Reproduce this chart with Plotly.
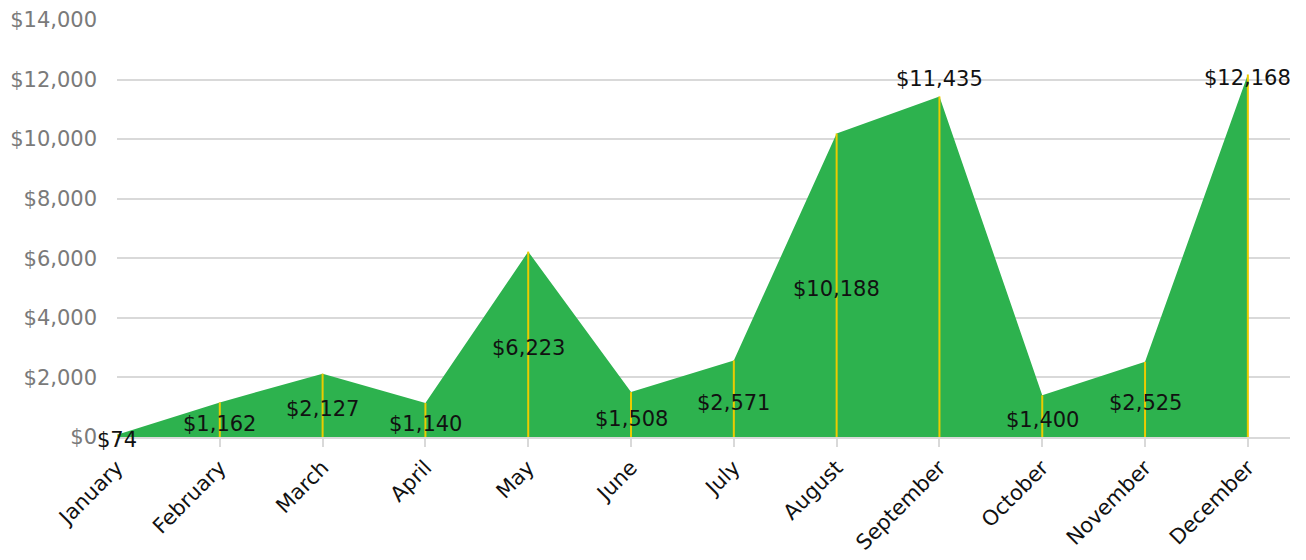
import plotly.graph_objects as go

months = ["January", "February", "March", "April", "May", "June", "July",
          "August", "September", "October", "November", "December"]
values = [74, 1162, 2127, 1140, 6223, 1508, 2571, 10188, 11435, 1400, 2525, 12168]
ytick_vals = [0, 2000, 4000, 6000, 8000, 10000, 12000, 14000]
ytick_text = ["$0", "$2,000", "$4,000", "$6,000", "$8,000", "$10,000", "$12,000", "$14,000"]

FONT = "DejaVu Sans"
xs = list(range(len(months)))

fig = go.Figure()
fig.add_trace(go.Scatter(
    x=xs, y=values, mode="lines", fill="tozeroy",
    line=dict(color="#2db24e", width=0), fillcolor="#2db24e",
    hoverinfo="skip", showlegend=False))

# yellow drop lines
lx, ly = [], []
for i, v in zip(xs, values):
    lx += [i, i, None]
    ly += [0, v, None]
fig.add_trace(go.Scatter(x=lx, y=ly, mode="lines",
                         line=dict(color="#eccb00", width=2),
                         hoverinfo="skip", showlegend=False))

for i, v in zip(xs, values):
    label = "${:,}".format(v)
    if i == 8:
        fig.add_annotation(x=i, y=v, text=label, showarrow=False,
                           yanchor="bottom", yshift=3,
                           font=dict(family=FONT, size=21, color="#111"))
    elif i == 11:
        fig.add_annotation(x=i, y=v, text=label, showarrow=False,
                           yanchor="middle", yshift=-3,
                           font=dict(family=FONT, size=21, color="#111"))
    else:
        fig.add_annotation(x=i, y=v / 2, text=label, showarrow=False,
                           yanchor="middle", yshift=-4,
                           font=dict(family=FONT, size=21, color="#111"))

fig.update_layout(
    width=1290, height=544,
    margin=dict(l=109, r=8, t=12, b=115),
    paper_bgcolor="white", plot_bgcolor="white",
    font=dict(family=FONT),
    xaxis=dict(
        range=[0, 11.41], tickmode="array", tickvals=xs, ticktext=months,
        tickangle=-45, tickfont=dict(family=FONT, size=21, color="#111"),
        showgrid=False, zeroline=False, showline=True, linecolor="#d9d9d9",
        linewidth=2, ticks="outside", ticklen=8, tickcolor="#d9d9d9",
        tickwidth=2, automargin=False),
    yaxis=dict(
        range=[0, 14000], tickmode="array", tickvals=ytick_vals, ticktext=ytick_text,
        tickfont=dict(family=FONT, size=21, color="#7a7a7a"),
        showgrid=True, gridcolor="#d9d9d9", gridwidth=2, zeroline=False,
        showline=False, ticks="", ticklabelstandoff=19, automargin=False),
)

fig.write_html("out.html")
